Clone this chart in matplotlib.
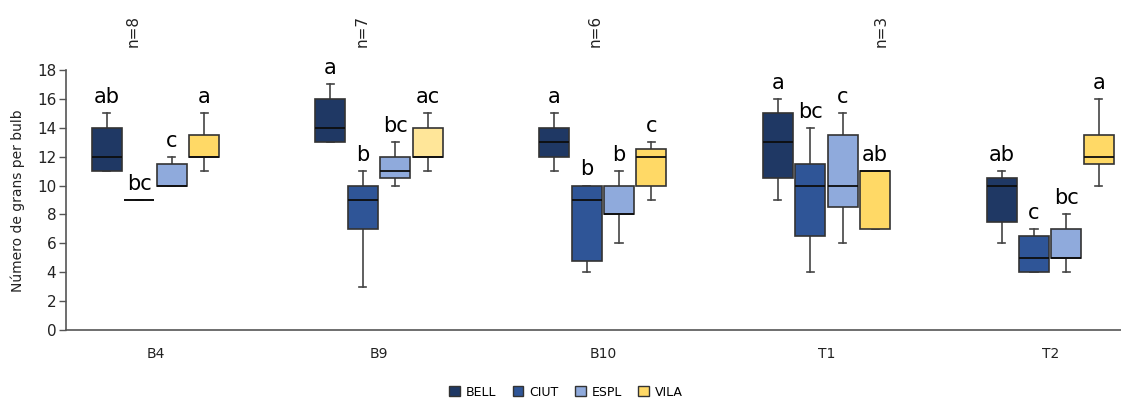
import numpy as np
import matplotlib.pyplot as plt
from matplotlib.patches import Patch

# Sites and cultivars
sites = ["B4", "B9", "B10", "T1", "T2"]
cultivars = ["BELL", "CIUT", "ESPL", "VILA"]
sample_sizes = ["n=8", "n=7", "n=6", "n=3"]

# Box statistics per site, one row per cultivar: whisker low, Q1, median, Q3, whisker high
whis_lo = [[11, 9, 10, 11], [13, 3, 10, 11], [11, 4, 6, 9], [9, 4, 6, 7], [6, 4, 4, 10]]
q1 = [[11, 9, 10, 12], [13, 7, 10.5, 12], [12, 4.75, 8, 10], [10.5, 6.5, 8.5, 7], [7.5, 4, 5, 11.5]]
median = [[12, 9, 10, 12], [14, 9, 11, 12], [13, 9, 8, 12], [13, 10, 10, 11], [10, 5, 5, 12]]
q3 = [[14, 9, 11.5, 13.5], [16, 10, 12, 14], [14, 10, 10, 12.5], [15, 11.5, 13.5, 11], [10.5, 6.5, 7, 13.5]]
whis_hi = [[15, 9, 12, 15], [17, 11, 13, 15], [15, 10, 11, 13], [16, 14, 15, 11], [11, 7, 8, 16]]

# Significance letters
letters = [["ab", "bc", "c", "a"],
           ["a", "b", "bc", "ac"],
           ["a", "b", "b", "c"],
           ["a", "bc", "c", "ab"],
           ["ab", "c", "bc", "a"]]

colors = ["#1F3864", "#2F5597", "#8FAADC", "#FFD966"]

fig = plt.figure(figsize=(11.21, 4.0), dpi=100)
ax = fig.add_axes([0.0589, 0.175, 0.9411, 0.65])

step = 0.145
width = 0.134
stats, positions, faces = [], [], []
for i, site in enumerate(sites):
    for k, cv in enumerate(cultivars):
        stats.append(dict(whislo=whis_lo[i][k], q1=q1[i][k], med=median[i][k],
                          q3=q3[i][k], whishi=whis_hi[i][k]))
        positions.append(i + (k - 1.5) * step)
        faces.append(colors[k])
# lighter fill for VILA at B9
faces[1 * 4 + 3] = "#FFE699"

edge = "#333333"
bp = ax.bxp(stats, positions=positions, widths=width, patch_artist=True,
            showfliers=False, capwidths=0.032,
            boxprops=dict(edgecolor=edge, linewidth=1.2),
            whiskerprops=dict(color="#444444", linewidth=1.2),
            capprops=dict(color="#444444", linewidth=1.2),
            medianprops=dict(color="#0d0d0d", linewidth=1.3))
for patch, fc in zip(bp["boxes"], faces):
    patch.set_facecolor(fc)
    patch.set_zorder(3)
for line in bp["medians"]:
    line.set_zorder(4)

# letters above each box
for i in range(len(sites)):
    for k in range(len(cultivars)):
        ax.text(i + (k - 1.5) * step, whis_hi[i][k] + 0.7, letters[i][k],
                ha="center", va="baseline", fontsize=15, color="black")

ax.set_xlim(-0.3997, 4.3165)
ax.set_ylim(0, 18)
ax.set_yticks(np.arange(0, 19, 2))
ax.set_xticks(range(len(sites)))
ax.set_xticklabels(sites)
ax.tick_params(axis="x", length=0, pad=12, labelsize=10, labelcolor="#222222")
ax.tick_params(axis="y", length=5, width=1, pad=2, labelsize=11,
               color="#555555", labelcolor="#222222")
for s in ["top", "right"]:
    ax.spines[s].set_visible(False)
for s in ["left", "bottom"]:
    ax.spines[s].set_color("#555555")
    ax.spines[s].set_linewidth(1.2)

fig.text(18 / 1121, 0.498, "Número de grans per bulb", rotation=90,
         ha="center", va="center", fontsize=10, color="#222222")

# sample sizes along the top
for x, lab in zip([0.1186, 0.3229, 0.5308, 0.7859], sample_sizes):
    fig.text(x, 0.9225, lab, rotation=90, ha="center", va="center",
             fontsize=11, color="#222222")

handles = [Patch(facecolor=c, edgecolor=edge, linewidth=1) for c in colors]
fig.legend(handles, cultivars, loc="center", bbox_to_anchor=(0.505, 0.02),
           ncol=4, frameon=False, fontsize=9, handlelength=0.85,
           handleheight=0.85, handletextpad=0.5, columnspacing=1.3)

fig.savefig("out.png", dpi=100)
plt.close(fig)
